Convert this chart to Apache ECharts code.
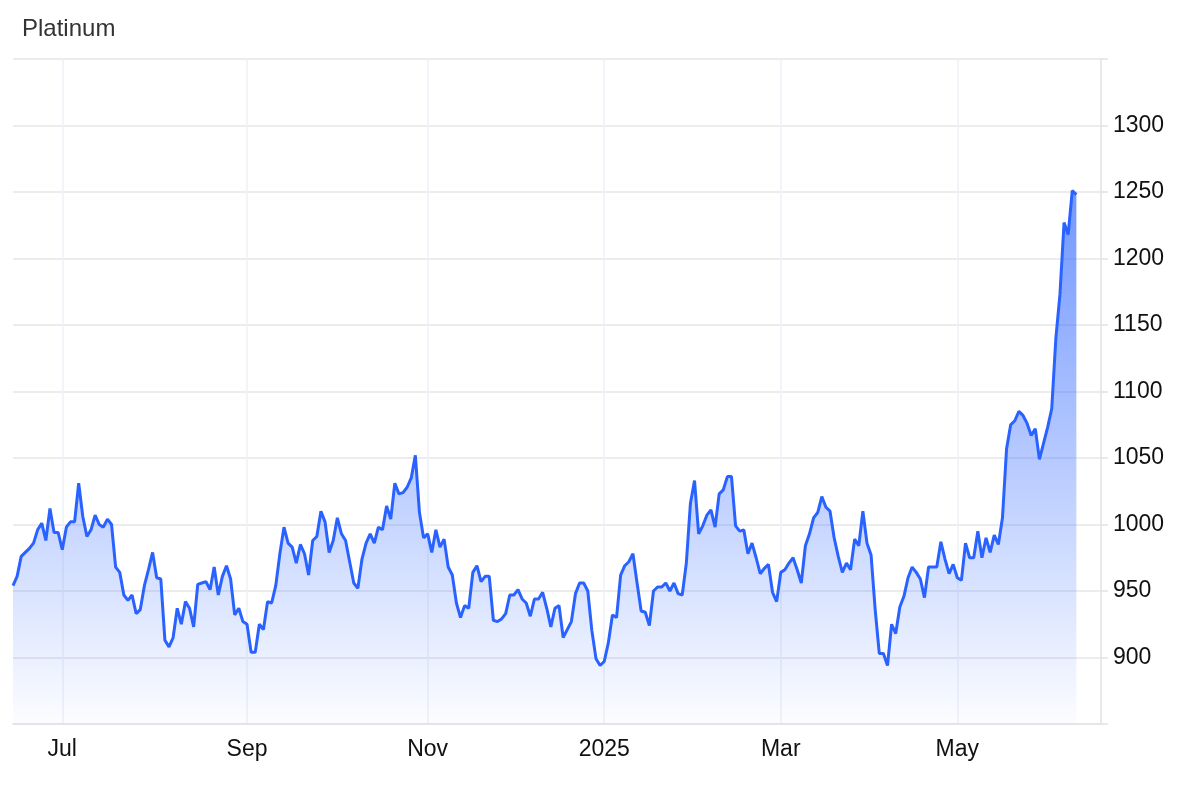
<!DOCTYPE html>
<html>
<head>
<meta charset="utf-8">
<script src="https://cdn.jsdelivr.net/npm/echarts@6/dist/echarts.min.js"></script>
<style>
html,body{margin:0;padding:0;background:#fff;}
#chart{width:1200px;height:786px;}
</style>
</head>
<body>
<div id="chart"></div>
<script>
// ---- data ----
const titleText = 'Platinum';
const startDate = '2024-06-13';       // first trading day shown
const categoryCount = 266;            // weekday slots on the x axis
const tickDates = ['2024-07-01', '2024-09-02', '2024-11-01', '2025-01-01', '2025-03-03', '2025-05-01'];
const tickLabels = ['Jul', 'Sep', 'Nov', '2025', 'Mar', 'May'];
const prices = [
  954, 961, 976, 979, 982, 986, 996, 1001, 988, 1012,
  994, 994, 981, 998, 1002, 1002, 1031, 1006, 991, 996,
  1007, 1000, 998, 1004, 1000, 968, 964, 947, 943, 947,
  933, 936, 954, 966, 979, 960, 959, 913, 908, 915,
  937, 925, 942, 937, 923, 955, 956, 957, 951, 968,
  947, 961, 969, 959, 932, 937, 927, 925, 904, 904,
  925, 921, 942, 941, 954, 978, 998, 986, 983, 971,
  985, 978, 962, 988, 991, 1010, 1002, 979, 988, 1005,
  993, 988, 972, 956, 952, 974, 986, 993, 986, 998,
  996, 1014, 1004, 1031, 1023, 1024, 1028, 1035, 1052, 1009,
  990, 993, 979, 996, 983, 989, 968, 962, 941, 930,
  939, 937, 964, 969, 957, 961, 961, 928, 927, 929,
  933, 947, 947, 951, 944, 941, 931, 944, 944, 949,
  937, 923, 937, 939, 915, 921, 927, 948, 956, 956,
  950, 920, 899, 894, 897, 911, 932, 930, 962, 969,
  972, 978, 956, 935, 934, 924, 950, 953, 953, 956,
  950, 956, 948, 947, 971, 1016, 1033, 993, 999, 1007,
  1011, 998, 1023, 1026, 1036, 1036, 999, 995, 996, 978,
  986, 975, 963, 967, 970, 949, 942, 964, 966, 971,
  975, 966, 956, 984, 993, 1005, 1009, 1021, 1013, 1010,
  990, 976, 964, 971, 966, 989, 984, 1010, 986, 977,
  936, 903, 903, 894, 925, 918, 938, 946, 960, 968,
  964, 959, 945, 968, 968, 968, 987, 974, 963, 970,
  960, 958, 986, 975, 975, 995, 975, 990, 979, 992,
  985, 1005, 1057, 1075, 1078, 1085, 1082, 1076, 1067, 1072,
  1049, 1061, 1073, 1087, 1140, 1173, 1227, 1218, 1251, 1248
];
const yMin = 850, yMax = 1350, yStep = 50;

// ---- build weekday categories ----
function fmt(d) {
  const m = String(d.getUTCMonth() + 1).padStart(2, '0');
  const day = String(d.getUTCDate()).padStart(2, '0');
  return d.getUTCFullYear() + '-' + m + '-' + day;
}
const categories = [];
{
  const d = new Date(startDate + 'T00:00:00Z');
  while (categories.length < categoryCount) {
    const wd = d.getUTCDay();
    if (wd !== 0 && wd !== 6) categories.push(fmt(d));
    d.setUTCDate(d.getUTCDate() + 1);
  }
}
const seriesData = categories.map((c, i) => (i < prices.length ? prices[i] : null));
const isTick = (idx, val) => tickDates.indexOf(val !== undefined ? val : categories[idx]) >= 0;

const FONT = '"Liberation Sans", Arial, Helvetica, sans-serif';
const chart = echarts.init(document.getElementById('chart'), null, { renderer: 'canvas' });
chart.setOption({
  animation: false,
  backgroundColor: '#ffffff',
  title: {
    text: titleText,
    left: 17,
    top: 12,
    textStyle: { color: '#333333', fontSize: 24, fontWeight: 'normal', fontFamily: FONT }
  },
  grid: { left: 13, right: 99, top: 59, bottom: 62, containLabel: false },
  xAxis: {
    type: 'category',
    data: categories,
    boundaryGap: false,
    axisLine: { show: true, lineStyle: { color: '#e2e2e2', width: 1.5 } },
    axisTick: { show: false },
    axisLabel: {
      interval: (idx, val) => isTick(idx, val),
      formatter: (val) => { const k = tickDates.indexOf(val); return k >= 0 ? tickLabels[k] : ''; },
      color: '#111111',
      fontSize: 23,
      fontFamily: FONT,
      margin: 14
    },
    splitLine: {
      show: true,
      interval: (idx, val) => isTick(idx, val),
      lineStyle: { color: '#edf1f7', width: 1.5 }
    }
  },
  yAxis: {
    type: 'value',
    position: 'right',
    min: yMin,
    max: yMax,
    interval: yStep,
    axisLine: { show: true, lineStyle: { color: '#e2e2e2', width: 1.5 } },
    axisTick: { show: true, length: 7, lineStyle: { color: '#e2e2e2', width: 1.5 } },
    axisLabel: {
      formatter: (v) => (v === yMin || v === yMax ? '' : String(v)),
      color: '#111111',
      fontSize: 23,
      fontFamily: FONT,
      margin: 12,
      padding: [4, 0, 0, 0]
    },
    splitLine: { show: true, lineStyle: { color: '#e6e6e6', width: 1.5 } }
  },
  series: [{
    type: 'line',
    data: seriesData,
    showSymbol: false,
    symbol: 'none',
    connectNulls: false,
    lineStyle: { color: '#2962ff', width: 3 },
    itemStyle: { color: '#2962ff' },
    areaStyle: {
      origin: 'start',
      color: new echarts.graphic.LinearGradient(0, 0, 0, 1, [
        { offset: 0, color: 'rgba(41, 98, 255, 0.95)' },
        { offset: 1, color: 'rgba(41, 98, 255, 0.02)' }
      ])
    }
  }]
});
</script>
</body>
</html>
